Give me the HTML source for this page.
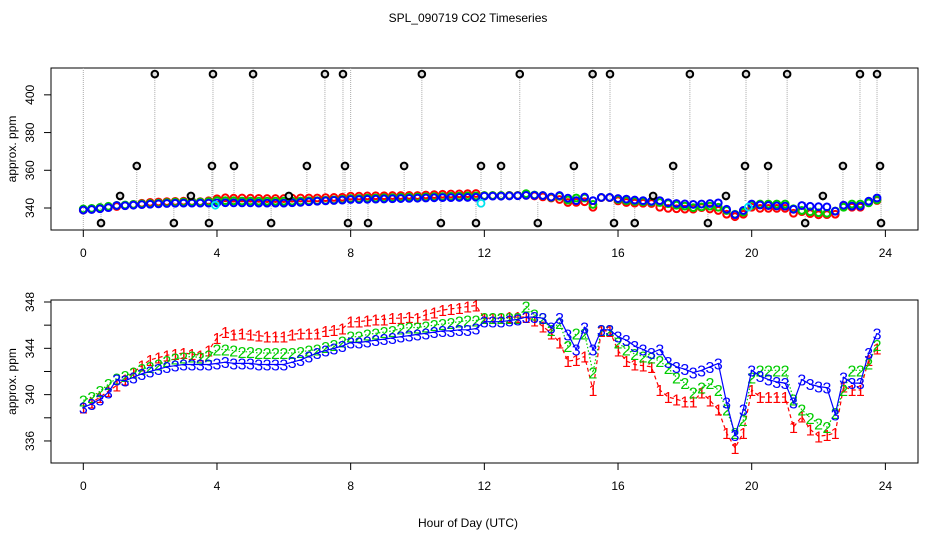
<!DOCTYPE html>
<html><head><meta charset="utf-8"><style>
body{margin:0;background:#fff}
svg{display:block;font-family:"Liberation Sans",sans-serif}
</style></head><body>
<svg id="chart" width="936" height="540" viewBox="0 0 936 540" xmlns="http://www.w3.org/2000/svg">
<rect width="936" height="540" fill="#fff"/>
<text x="468" y="22" font-size="12" text-anchor="middle">SPL_090719  CO2 Timeseries</text>
<text x="468" y="527" font-size="12" text-anchor="middle">Hour of Day (UTC)</text>
<g id="topPanel"></g>
<g id="botPanel"></g>
</svg>
<script>
const hours = [];
for (let i = 0; i < 96; i++) hours.push(i * 0.25);
const series1 = [338.9,339.3,339.8,340.3,340.8,341.3,341.9,342.5,343.0,343.2,343.4,343.5,343.6,343.5,343.4,343.8,344.9,345.4,345.2,345.3,345.2,345.1,345.0,345.0,345.0,345.2,345.3,345.3,345.3,345.5,345.6,345.7,346.3,346.3,346.4,346.5,346.5,346.6,346.6,346.7,346.6,346.9,347.1,347.3,347.4,347.5,347.6,347.7,346.6,346.6,346.6,346.7,346.7,346.7,346.4,345.9,345.3,344.5,342.9,343.0,343.3,340.4,345.5,345.5,343.8,342.9,342.6,342.5,342.4,340.4,339.8,339.6,339.4,339.4,340.2,339.5,338.7,336.7,335.4,336.7,340.4,339.8,339.8,339.8,339.8,337.2,338.1,337.0,336.4,336.5,336.7,340.7,340.4,340.4,343.0,344.0];
const series2 = [339.5,339.8,340.3,340.9,341.4,341.6,341.9,342.2,342.4,342.6,342.9,343.1,343.2,343.3,343.2,343.4,343.9,343.9,343.8,343.7,343.7,343.6,343.6,343.6,343.6,343.6,343.7,343.8,343.9,344.1,344.3,344.6,345.0,345.0,345.2,345.3,345.4,345.5,345.7,345.8,345.8,345.9,346.0,346.1,346.2,346.3,346.4,346.4,346.6,346.6,346.6,346.6,346.6,347.6,346.9,346.6,345.6,346.2,344.2,345.3,345.3,341.9,345.6,345.6,344.5,343.9,343.5,343.3,343.2,342.9,342.3,341.5,341.0,340.2,340.6,341.0,340.4,338.7,336.7,337.8,341.5,342.1,342.1,342.1,342.1,339.6,338.7,338.0,337.5,337.2,338.4,340.4,342.1,342.1,342.7,344.3];
const series3 = [338.9,339.2,339.6,340.2,341.3,341.2,341.5,341.8,342.0,342.2,342.4,342.5,342.6,342.6,342.6,342.6,342.7,342.8,342.7,342.7,342.7,342.6,342.6,342.6,342.6,342.8,343.0,343.3,343.6,343.8,344.0,344.2,344.5,344.5,344.6,344.7,344.8,344.9,345.0,345.1,345.2,345.3,345.4,345.5,345.5,345.6,345.6,345.7,346.3,346.3,346.3,346.4,346.5,346.7,346.7,346.6,345.8,346.6,345.2,343.9,345.8,343.9,345.6,345.6,345.0,344.7,344.2,343.9,343.6,343.9,342.8,342.4,342.2,341.9,342.1,342.4,342.7,339.3,336.5,338.7,342.1,341.6,341.3,341.1,341.0,339.3,341.3,340.9,340.7,340.6,338.3,341.5,341.0,341.0,343.6,345.3];
const outlierHours = [0.53,1.1,1.6,2.14,2.71,3.22,3.76,3.85,3.88,4.51,5.08,5.62,6.15,6.69,7.23,7.77,7.83,7.92,8.52,9.6,10.13,10.7,11.75,11.9,12.5,13.06,13.6,14.68,15.24,15.76,15.88,16.5,17.05,17.65,18.15,18.69,19.23,19.8,19.83,20.49,21.06,21.6,22.13,22.73,23.24,23.75,23.84,23.87];
const outlierValues = [332,346.4,362.3,411,332,346.4,332,362.3,411,362.3,411,332,346.4,362.3,411,411,362.3,332,332,362.3,411,332,332,362.3,362.3,411,332,362.3,411,411,332,332,346.4,362.3,411,332,346.4,362.3,411,362.3,411,332,346.4,362.3,411,411,362.3,332];
const cyanHours = [3.95,11.9,19.9];
const cyanValues = [341.5,342.5,340.5];
const xTicks = [0,4,8,12,16,20,24];
const topYTicks = [340,360,380,400];
const botYTicks = [336,338,340,342,344,346,348];
const botYLabels = [336,340,344,348];

const NS = "http://www.w3.org/2000/svg";
function mk(parent, tag, attrs) {
  const e = document.createElementNS(NS, tag);
  for (const k in attrs) e.setAttribute(k, attrs[k]);
  parent.appendChild(e);
  return e;
}
const xs = h => 83.3 + h * 33.42;
const yTop = v => 208 - (v - 340) * 1.886;
const yBot = v => 302 + (348 - v) * 11.58;
const colors = ["#ff0000", "#00cc00", "#0000ff"];
const allSeries = [series1, series2, series3];

function axes(g, t0, b0, yfun, yTicks, yLabels, name) {
  const box = mk(g, "rect", {x: 51, y: t0, width: 867, height: b0 - t0, fill: "none", stroke: "#000", "stroke-width": 1});
  
  
  const xa = mk(g, "g", {});
  
  
  mk(xa, "line", {x1: xs(0), x2: xs(24), y1: b0, y2: b0, stroke: "#000"});
  xTicks.forEach(t => {
    mk(xa, "line", {x1: xs(t), x2: xs(t), y1: b0, y2: b0 + 7, stroke: "#000"});
    const tx = mk(xa, "text", {x: xs(t), y: b0 + 27, "font-size": 12, "text-anchor": "middle"});
    tx.textContent = t;
    
    
  });
  const ya = mk(g, "g", {});
  
  
  yTicks.forEach(v => {
    mk(ya, "line", {x1: 44, x2: 51, y1: yfun(v), y2: yfun(v), stroke: "#000"});
  });
  yLabels.forEach(v => {
    const tx = mk(ya, "text", {x: 0, y: 0, "font-size": 12, "text-anchor": "middle", transform: `translate(34,${yfun(v)}) rotate(-90)`});
    tx.textContent = v;
    
    
  });
  const yt = mk(g, "text", {x: 0, y: 0, "font-size": 12, "text-anchor": "middle", transform: `translate(16,${(t0 + b0) / 2}) rotate(-90)`});
  yt.textContent = "approx. ppm";
  
  
}

// TOP PANEL
const topG = document.getElementById("topPanel");
axes(topG, 68, 230, yTop, topYTicks, topYTicks, "top");
const og = mk(topG, "g", {});


outlierHours.forEach((h, i) => {
  mk(og, "line", {x1: xs(h), x2: xs(h), y1: yTop(outlierValues[i]), y2: yTop(343.5), stroke: "#aaa", "stroke-dasharray": "1,1"});
});
mk(og, "line", {x1: xs(0), x2: xs(0), y1: 68, y2: 230, stroke: "#aaa", "stroke-dasharray": "1,1"});
mk(og, "line", {x1: xs(8), x2: xs(8), y1: 68, y2: 230, stroke: "#aaa", "stroke-dasharray": "1,1"});
allSeries.forEach((s, k) => {
  const sg = mk(topG, "g", {});
  
  
  s.forEach((v, i) => {
    const c = mk(sg, "circle", {cx: xs(hours[i]), cy: yTop(v), r: 3.4, fill: "none", stroke: colors[k], "stroke-width": 2});
    
    
  });
});
const cg = mk(topG, "g", {});


cyanHours.forEach((h, i) => {
  mk(cg, "circle", {cx: xs(h), cy: yTop(cyanValues[i]), r: 3.5, fill: "none", stroke: "#00e5ee", "stroke-width": 1.8});
});
const og2 = mk(topG, "g", {});


outlierHours.forEach((h, i) => {
  const c = mk(og2, "circle", {cx: xs(h), cy: yTop(outlierValues[i]), r: 3.3, fill: "#ddd", stroke: "#000", "stroke-width": 2});
  
  
});

// BOTTOM PANEL
const botG = document.getElementById("botPanel");
axes(botG, 300, 463, yBot, botYTicks, botYLabels, "bottom");
const dashes = ["4,3", "1.5,2", "none"];
allSeries.forEach((s, k) => {
  const sg = mk(botG, "g", {});
  
  
  const pts = s.map((v, i) => xs(hours[i]).toFixed(1) + "," + yBot(v).toFixed(1)).join(" ");
  const pl = mk(sg, "polyline", {points: pts, fill: "none", stroke: colors[k], "stroke-width": 1.2, "stroke-dasharray": dashes[k]});
  
  
  s.forEach((v, i) => {
    const t = mk(sg, "text", {x: xs(hours[i]), y: yBot(v) + 6, "font-size": 16, "text-anchor": "middle", fill: colors[k]});
    t.textContent = String(k + 1);
    
    
  });
});
</script>
</body></html>
